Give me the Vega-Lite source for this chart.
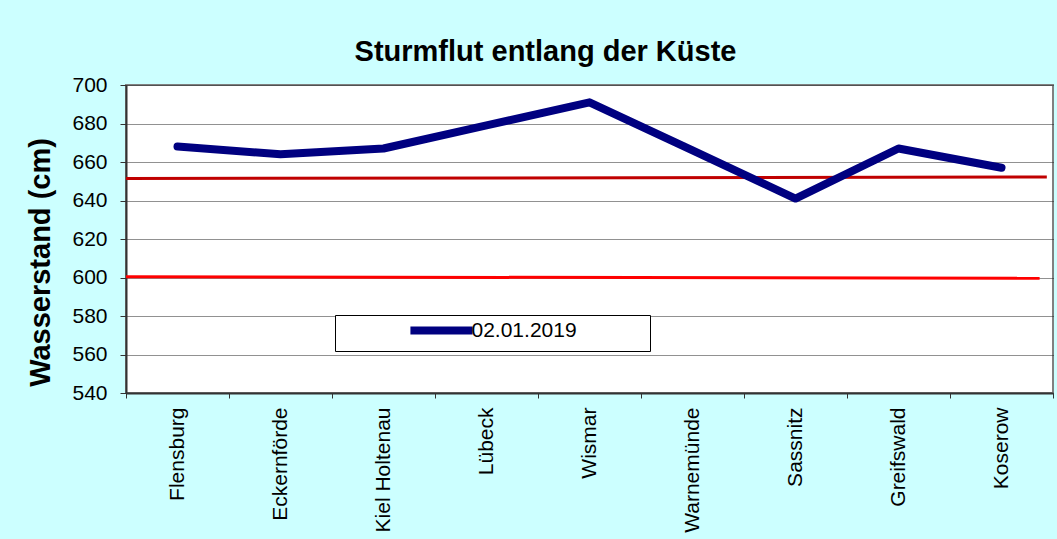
{
  "$schema": "https://vega.github.io/schema/vega-lite/v6.json",
  "width": 927,
  "height": 308,
  "autosize": {"type": "none"},
  "padding": {"left": 126, "top": 85, "right": 4, "bottom": 146},
  "background": "#CCFFFF",
  "config": {
    "font": "Liberation Sans",
    "view": {"fill": "white", "stroke": "#808080", "strokeWidth": 2},
    "axis": {"labelFont": "Liberation Sans", "labelColor": "black", "titleColor": "black", "domainColor": "#333333", "domainWidth": 2, "tickColor": "#333333", "tickWidth": 1}
  },
  "title": {
    "text": "Sturmflut entlang der Küste",
    "font": "Liberation Sans",
    "fontSize": 29,
    "fontWeight": "bold",
    "color": "black",
    "anchor": "middle",
    "frame": "group",
    "dx": -44,
    "offset": 7
  },
  "datasets": {
    "pegel": [
      {"Ort": "Flensburg", "Wasserstand": 668, "Datum": "02.01.2019"},
      {"Ort": "Eckernförde", "Wasserstand": 664, "Datum": "02.01.2019"},
      {"Ort": "Kiel Holtenau", "Wasserstand": 667, "Datum": "02.01.2019"},
      {"Ort": "Lübeck", "Wasserstand": 679, "Datum": "02.01.2019"},
      {"Ort": "Wismar", "Wasserstand": 691, "Datum": "02.01.2019"},
      {"Ort": "Warnemünde", "Wasserstand": 666, "Datum": "02.01.2019"},
      {"Ort": "Sassnitz", "Wasserstand": 641, "Datum": "02.01.2019"},
      {"Ort": "Greifswald", "Wasserstand": 667, "Datum": "02.01.2019"},
      {"Ort": "Koserow", "Wasserstand": 657, "Datum": "02.01.2019"}
    ],
    "grenzen": [
      {"pos": 0, "Wasserstand": 651.4, "Linie": "oben"},
      {"pos": 8.94, "Wasserstand": 652.2, "Linie": "oben"},
      {"pos": 0, "Wasserstand": 600.4, "Linie": "unten"},
      {"pos": 8.87, "Wasserstand": 599.6, "Linie": "unten"}
    ]
  },
  "encoding": {
    "y": {"field": "Wasserstand", "type": "quantitative", "scale": {"domain": [540, 700], "nice": false, "zero": false},
      "axis": {"title": "Wasserstand (cm)", "values": [540, 560, 580, 600, 620, 640, 660, 680, 700], "labelOverlap": false, "grid": true, "gridColor": "#222222", "gridDash": [1, 1], "gridWidth": 1, "tickSize": 6, "labelFontSize": 21, "labelPadding": 13, "titleFont": "Liberation Sans", "titleFontSize": 29, "titleFontWeight": "bold", "titleX": -77, "titleY": 177, "titleAngle": 270, "titleAlign": "center", "titleBaseline": "alphabetic"}}
  },
  "layer": [
    {
      "data": {"name": "grenzen"},
      "mark": {"type": "line", "strokeWidth": 3},
      "encoding": {
        "x": {"field": "pos", "type": "quantitative", "scale": {"domain": [0, 9], "nice": false, "zero": false}, "axis": null},
        "color": {"field": "Linie", "type": "nominal", "scale": {"domain": ["oben", "unten"], "range": ["#C00000", "#FF0000"]}, "legend": null}
      }
    },
    {
      "data": {"name": "pegel"},
      "mark": {"type": "line", "strokeWidth": 8, "strokeCap": "round", "strokeJoin": "round"},
      "encoding": {
        "x": {"field": "Ort", "type": "nominal", "sort": null,
          "scale": {"type": "band", "paddingInner": 0, "paddingOuter": 0},
          "axis": {"title": null, "labelAngle": 270, "labelAlign": "right", "labelBaseline": "middle", "labelFontSize": 21, "labelPadding": 9, "tickSize": 5, "tickBand": "extent", "grid": false, "labelLimit": 300}},
        "color": {"field": "Datum", "type": "nominal", "scale": {"range": ["#000080"]},
          "legend": {"title": " ", "titleOrient": "right", "titleFontSize": 21, "titlePadding": 69, "orient": "none", "legendX": 209, "legendY": 230, "direction": "vertical",
            "fillColor": "white", "strokeColor": "black", "cornerRadius": 0, "padding": 4.5,
            "symbolType": "M-4.44,0H4.44", "symbolSize": 196, "symbolStrokeWidth": 8, "symbolStrokeColor": "#000080",
            "symbolOffset": 91, "labelOffset": 19,
            "labelFont": "Liberation Sans", "labelFontSize": 21, "labelColor": "black", "labelLimit": 400}}
      }
    }
  ],
  "resolve": {"scale": {"x": "independent", "color": "independent"}}
}
